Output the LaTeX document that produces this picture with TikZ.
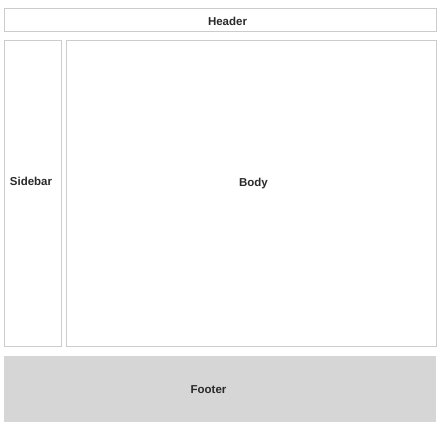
\documentclass[tikz,border=0pt]{standalone}
\usepackage{fontspec}
\setmainfont{Liberation Sans}
\definecolor{edgegray}{HTML}{CCCCCC}
\definecolor{footgray}{HTML}{D6D6D6}
\definecolor{textgray}{HTML}{2A2A2A}
\tikzset{
  panel/.style={draw=edgegray, line width=1pt, fill=white},
  lbl/.style={font=\bfseries\fontsize{11.5}{13}\selectfont, text=textgray, anchor=base, inner sep=0pt}
}
\begin{document}
\begin{tikzpicture}[x=1pt,y=-1pt]
\useasboundingbox (0,0) rectangle (445,432);
\draw[panel] (4.5,8.5) rectangle (436.5,31);
\node[lbl] (header) at (227.5,25.8) {Header};
\draw[panel] (4.5,40.5) rectangle (61,346.5);
\node[lbl] (sidebar) at (31,185) {Sidebar};
\draw[panel] (66.5,40.5) rectangle (436,346.5);
\node[lbl] (body) at (253.5,186) {Body};
\fill[footgray] (4,356) rectangle (436,422);
\node[lbl] (footer) at (208.5,393) {Footer};
\end{tikzpicture}
\end{document}
